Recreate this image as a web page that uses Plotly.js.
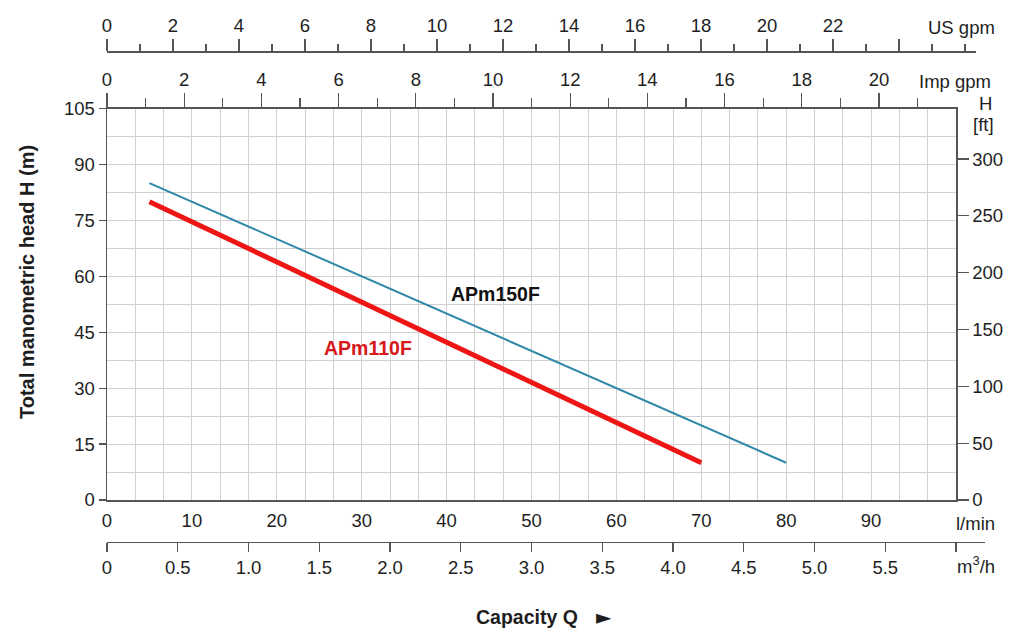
<!DOCTYPE html>
<html><head><meta charset="utf-8">
<script src="https://cdn.plot.ly/plotly-3.0.1.min.js"></script>
<style>body{margin:0;background:#fff}#c{width:1024px;height:639px}</style>
</head><body><div id="c"></div>
<script>
// Data (capacity in l/min, head in m)
const series150Name = 'APm150F';
const series150Q = [5, 80];
const series150H = [85, 10];
const series110Name = 'APm110F';
const series110Q = [5, 70];
const series110H = [80, 10];

const lminTicks = [0,10,20,30,40,50,60,70,80,90];
const headTicks = [0,15,30,45,60,75,90,105];
const ftTicks = [0,50,100,150,200,250,300];
const impTicks = [0,2,4,6,8,10,12,14,16,18,20];
const usTicks = [0,2,4,6,8,10,12,14,16,18,20,22,24];
const usLabels = ['0','2','4','6','8','10','12','14','16','18','20','22',''];
const m3hTicks = [0,0.5,1,1.5,2,2.5,3,3.5,4,4.5,5,5.5,6];
const m3hLabels = ['0','0.5','1.0','1.5','2.0','2.5','3.0','3.5','4.0','4.5','5.0','5.5',''];

const W = 1024, H = 639, L = 107, R = 39;
const PW = W - L - R;           // paper width
const plotRight = 956;
const px = v => (v - L) / PW;    // pixel x -> paper
const py = v => (H - v) / H;     // pixel y -> paper

const FAM = 'Liberation Sans, Arial, sans-serif';
const font = {family: FAM, size: 18.5, color: '#1e1e1e'};
const axCol = '#555';
const gridCol = '#d0d0d0';

const traces = [
  {x: series150Q, y: series150H, type: 'scatter', mode: 'lines', name: series150Name,
   line: {color: '#2f88a8', width: 2}, hoverinfo: 'skip'},
  {x: series110Q, y: series110H, type: 'scatter', mode: 'lines', name: series110Name,
   line: {color: '#ee1515', width: 5}, hoverinfo: 'skip'},
  // invisible carriers so the secondary scales are drawn
  {x: [0], y: [0], xaxis: 'x', yaxis: 'y2', type: 'scatter', mode: 'markers', marker: {opacity: 0}, hoverinfo: 'skip'},
  {x: [0], y: [0], xaxis: 'x2', yaxis: 'y', type: 'scatter', mode: 'markers', marker: {opacity: 0}, hoverinfo: 'skip'},
  {x: [0], y: [0], xaxis: 'x3', yaxis: 'y3', type: 'scatter', mode: 'markers', marker: {opacity: 0}, hoverinfo: 'skip'},
  {x: [0], y: [0], xaxis: 'x4', yaxis: 'y4', type: 'scatter', mode: 'markers', marker: {opacity: 0}, hoverinfo: 'skip'}
];

const xDomEnd = px(plotRight);
const yDom = [py(500), py(108.5)];

const hiddenY = d => ({domain: d, visible: false, range: [0, 1], fixedrange: true, showgrid: false, zeroline: false});

const layout = {
  width: W, height: H,
  margin: {l: L, r: R, t: 0, b: 0, pad: 0},
  paper_bgcolor: '#fff', plot_bgcolor: 'rgba(0,0,0,0)',
  showlegend: false,
  font: font,
  xaxis: {
    domain: [0, xDomEnd], range: [0, 100], anchor: 'y',
    tickmode: 'array', tickvals: lminTicks, ticks: '', ticklen: 0, ticklabelstandoff: 3,
    showline: true, linecolor: axCol, linewidth: 1.5, mirror: true,
    showgrid: true, gridcolor: gridCol, gridwidth: 1,
    minor: {dtick: 10/3, tick0: 0, showgrid: true, gridcolor: gridCol, gridwidth: 1, ticks: ''},
    zeroline: false, tickfont: font, fixedrange: true
  },
  yaxis: {
    domain: yDom, range: [0, 105], anchor: 'x',
    tickmode: 'array', tickvals: headTicks, ticks: 'outside', ticklen: 7, tickcolor: axCol, tickwidth: 1.2,
    showline: true, linecolor: axCol, linewidth: 1.5, mirror: true,
    showgrid: true, gridcolor: gridCol, gridwidth: 1,
    minor: {dtick: 7.5, tick0: 0, showgrid: true, gridcolor: gridCol, gridwidth: 1, ticks: ''},
    zeroline: false, tickfont: font, fixedrange: true
  },
  yaxis2: {
    overlaying: 'y', side: 'right', anchor: 'x', range: [0, 105/0.3048],
    tickmode: 'array', tickvals: ftTicks, ticks: 'outside', ticklen: 11, tickcolor: axCol, tickwidth: 1.2,
    showline: true, linecolor: axCol, linewidth: 1.5, showgrid: false, zeroline: false,
    tickfont: font, fixedrange: true
  },
  xaxis2: {
    overlaying: 'x', side: 'top', anchor: 'y', range: [0, 100/4.54609],
    tickmode: 'array', tickvals: impTicks, ticks: 'outside', ticklen: 14, tickcolor: axCol, tickwidth: 1.2,
    minor: {dtick: 1, tick0: 0, ticks: 'outside', ticklen: 9, tickcolor: axCol, tickwidth: 1.2, showgrid: false},
    showline: true, linecolor: axCol, linewidth: 1.5, showgrid: false, zeroline: false,
    tickfont: font, fixedrange: true
  },
  yaxis3: hiddenY([py(52), py(51)]),
  xaxis3: {
    anchor: 'free', position: py(51), side: 'top', domain: [0, px(976)],
    range: [0, (976 - L) / 33],
    tickmode: 'array', tickvals: usTicks, ticktext: usLabels, ticks: 'outside', ticklen: 12, tickcolor: axCol, tickwidth: 1.2,
    minor: {dtick: 1, tick0: 0, ticks: 'outside', ticklen: 7, tickcolor: axCol, tickwidth: 1.2, showgrid: false},
    showline: true, linecolor: axCol, linewidth: 1.5, showgrid: false, zeroline: false,
    tickfont: font, fixedrange: true
  },
  yaxis4: hiddenY([py(541.7), py(540.7)]),
  xaxis4: {
    anchor: 'free', position: py(541.7), side: 'bottom', domain: [0, 1],
    range: [0, (W - R - L) / ((plotRight - L) / 6)],
    tickmode: 'array', tickvals: m3hTicks, ticktext: m3hLabels, ticks: 'outside', ticklen: 9, tickcolor: axCol, tickwidth: 1.2,
    showline: true, linecolor: axCol, linewidth: 1.5, showgrid: false, zeroline: false,
    tickfont: font, fixedrange: true
  },
  annotations: [
    {xref: 'paper', yref: 'paper', x: px(961), y: py(27), text: 'US gpm', showarrow: false, font: font, xanchor: 'center', yanchor: 'middle'},
    {xref: 'paper', yref: 'paper', x: px(955), y: py(81), text: 'Imp gpm', showarrow: false, font: font, xanchor: 'center', yanchor: 'middle'},
    {xref: 'paper', yref: 'paper', x: px(985), y: py(103), text: 'H', showarrow: false, font: font, xanchor: 'center', yanchor: 'middle'},
    {xref: 'paper', yref: 'paper', x: px(983), y: py(124), text: '[ft]', showarrow: false, font: font, xanchor: 'center', yanchor: 'middle'},
    {xref: 'paper', yref: 'paper', x: px(975), y: py(523), text: 'l/min', showarrow: false, font: font, xanchor: 'center', yanchor: 'middle'},
    {xref: 'paper', yref: 'paper', x: px(976), y: py(565), text: 'm<sup>3</sup>/h', showarrow: false, font: font, xanchor: 'center', yanchor: 'middle'},
    {xref: 'paper', yref: 'paper', x: px(527), y: py(617), text: '<b>Capacity Q</b>', showarrow: false,
     font: {family: FAM, size: 19.5, color: '#1e1e1e'}, xanchor: 'center', yanchor: 'middle'},
    {xref: 'paper', yref: 'paper', x: px(603.5), y: py(617), text: '►', showarrow: false,
     font: {family: 'DejaVu Sans, sans-serif', size: 20, color: '#1e1e1e'}, xanchor: 'center', yanchor: 'middle'},
    {xref: 'paper', yref: 'paper', x: px(27), y: py(282), text: '<b>Total manometric head H (m)</b>', textangle: -90, showarrow: false,
     font: {family: FAM, size: 20, color: '#1e1e1e'}, xanchor: 'center', yanchor: 'middle'},
    {xref: 'x', yref: 'y', x: 45.8, y: 55.2, text: '<b>' + series150Name + '</b>', showarrow: false,
     font: {family: FAM, size: 19.5, color: '#111'}, xanchor: 'center', yanchor: 'middle'},
    {xref: 'x', yref: 'y', x: 30.8, y: 40.8, text: '<b>' + series110Name + '</b>', showarrow: false,
     font: {family: FAM, size: 19.5, color: '#d81818'}, xanchor: 'center', yanchor: 'middle'}
  ]
};

Plotly.newPlot('c', traces, layout, {staticPlot: true, displayModeBar: false});
</script></body></html>
